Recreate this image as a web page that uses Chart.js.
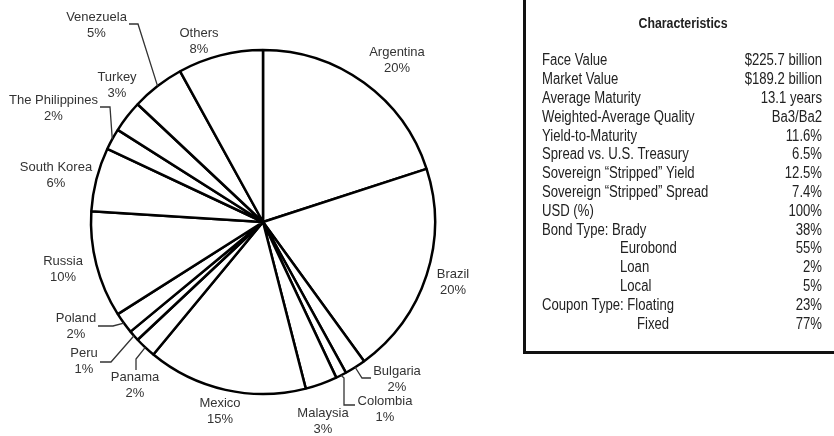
<!DOCTYPE html>
<html lang="en">
<head>
<meta charset="UTF-8">
<title>Emerging Markets Debt</title>
<style>
  body { margin: 0; background: #fff; }
  #wrap { position: relative; width: 834px; height: 436px; }
</style>
</head>
<body>
<div id="wrap"><canvas id="pie" width="834" height="436"></canvas></div>
<script src="https://cdn.jsdelivr.net/npm/chart.js"></script>
<script>
// country weights (%), clockwise from 12 o'clock
const countries = ['Argentina', 'Brazil', 'Bulgaria', 'Colombia', 'Malaysia', 'Mexico', 'Panama', 'Peru',
                   'Poland', 'Russia', 'South Korea', 'The Philippines', 'Turkey', 'Venezuela', 'Others'];
const shares = [20, 20, 2, 1, 3, 15, 2, 1, 2, 10, 6, 2, 3, 5, 8];

// characteristics table
const statTitle = 'Characteristics';
const statNames = ['Face Value', 'Market Value', 'Average Maturity', 'Weighted-Average Quality', 'Yield-to-Maturity',
                   'Spread vs. U.S. Treasury', 'Sovereign \u201cStripped\u201d Yield', 'Sovereign \u201cStripped\u201d Spread',
                   'USD (%)', 'Bond Type: Brady', 'Eurobond', 'Loan', 'Local', 'Coupon Type: Floating', 'Fixed'];
const statValues = ['$225.7 billion', '$189.2 billion', '13.1 years', 'Ba3/Ba2', '11.6%', '6.5%', '12.5%', '7.4%',
                    '100%', '38%', '55%', '2%', '5%', '23%', '77%'];

// label placement, offsets from the pie centre (layout only)
const labelLayout = [
  { dx: 134, dy: -170 },
  { dx: 190, dy: 52 },
  { dx: 134, dy: 149, leader: [[99, 156], [108, 156]] },
  { dx: 122, dy: 179, leader: [[81, 156], [81, 183], [92, 183]] },
  { dx: 60, dy: 191 },
  { dx: -43, dy: 181 },
  { dx: -128, dy: 155, leader: [[-127, 137], [-127, 148]] },
  { dx: -179, dy: 131, leader: [[-152, 140], [-163, 140]] },
  { dx: -187, dy: 96, leader: [[-150, 104], [-165, 104]] },
  { dx: -200, dy: 39 },
  { dx: -207, dy: -55 },
  { dx: -209.5, dy: -122, leader: [[-153, -115], [-163, -115]] },
  { dx: -146, dy: -145 },
  { dx: -166.5, dy: -205, leader: [[-125, -198], [-134, -198]] },
  { dx: -64, dy: -189 }
];
const statIndent = [0, 0, 0, 0, 0, 0, 0, 0, 0, 0, 78, 78, 78, 0, 95];

const sliceLabels = {
  id: 'sliceLabels',
  afterDatasetsDraw(chart) {
    const ctx = chart.ctx;
    const meta = chart.getDatasetMeta(0);
    ctx.save();
    ctx.strokeStyle = '#333';
    ctx.lineWidth = 1.3;
    ctx.fillStyle = '#333';
    ctx.font = '13px "Liberation Sans", Arial, sans-serif';
    ctx.textAlign = 'center';
    ctx.textBaseline = 'middle';
    meta.data.forEach((arc, i) => {
      const lay = labelLayout[i];
      const cx = arc.x, cy = arc.y;
      if (lay.leader) {
        const mid = (arc.startAngle + arc.endAngle) / 2;
        ctx.beginPath();
        ctx.moveTo(cx + arc.outerRadius * Math.cos(mid), cy + arc.outerRadius * Math.sin(mid));
        lay.leader.forEach(p => ctx.lineTo(cx + p[0], cy + p[1]));
        ctx.stroke();
      }
      ctx.fillText(countries[i], cx + lay.dx, cy + lay.dy);
      ctx.fillText(shares[i] + '%', cx + lay.dx, cy + lay.dy + 16.5);
    });
    ctx.restore();
  }
};

function narrowText(ctx, txt, x, y, sx) {
  ctx.save();
  ctx.translate(x, y);
  ctx.scale(sx, 1);
  ctx.fillText(txt, 0, 0);
  ctx.restore();
}

const statsBox = {
  id: 'statsBox',
  afterDraw(chart) {
    const ctx = chart.ctx;
    ctx.save();
    // box frame (top and right run off the picture)
    ctx.fillStyle = '#111';
    ctx.fillRect(523, 0, 3, 354);
    ctx.fillRect(523, 351, 311, 3);

    ctx.fillStyle = '#222';
    ctx.textBaseline = 'middle';
    ctx.textAlign = 'center';
    ctx.font = 'bold 14px "Liberation Sans", Arial, sans-serif';
    narrowText(ctx, statTitle, 683, 24, 0.88);

    ctx.font = '16px "Liberation Sans", Arial, sans-serif';
    statNames.forEach((name, i) => {
      const y = 61 + i * 18.8;
      ctx.textAlign = 'left';
      narrowText(ctx, name, 542 + statIndent[i], y, 0.82);
      ctx.textAlign = 'right';
      narrowText(ctx, statValues[i], 822, y, 0.82);
    });
    ctx.restore();
  }
};

new Chart(document.getElementById('pie'), {
  type: 'pie',
  data: {
    labels: countries,
    datasets: [{
      data: shares,
      backgroundColor: '#fff',
      borderColor: '#000',
      borderWidth: 2.5,
      radius: 172
    }]
  },
  options: {
    responsive: false,
    animation: false,
    layout: { padding: { left: 0, right: 308, top: 8, bottom: 0 } },
    plugins: {
      legend: { display: false },
      tooltip: { enabled: false }
    }
  },
  plugins: [sliceLabels, statsBox]
});
</script>
</body>
</html>
